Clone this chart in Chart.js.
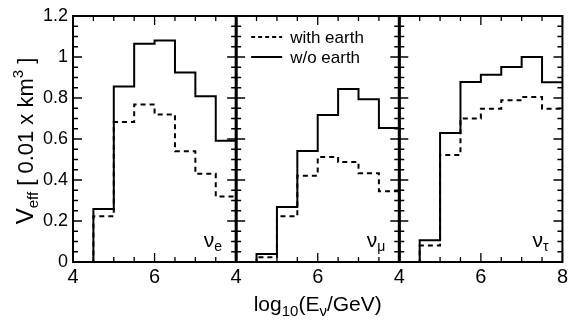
<!DOCTYPE html>
<html>
<head>
<meta charset="utf-8">
<title>Effective volume</title>
<script src="https://cdn.jsdelivr.net/npm/chart.js@4.4.0/dist/chart.umd.min.js"></script>
<style>
    html, body { margin: 0; padding: 0; background: #fff; }
    #veff { display: block; }
</style>
</head>
<body>
<canvas id="veff" width="571" height="321"></canvas>
<script>
const FONT = '"Liberation Sans", Arial, sans-serif';

// bin edges in log10(E/GeV), shared by every panel
const binEdges = [4, 4.5, 5, 5.5, 6, 6.5, 7, 7.5, 8];
const flavours = ['e', 'μ', 'τ'];

// V_eff per bin, units of 0.01 km^3
const nueNoEarth = [0, 0.258, 0.856, 1.065, 1.08, 0.925, 0.808, 0.592];
const nueEarth = [0, 0.223, 0.683, 0.768, 0.72, 0.54, 0.43, 0.319];
const numuNoEarth = [0, 0.039, 0.268, 0.541, 0.717, 0.844, 0.794, 0.654];
const numuEarth = [0, 0.023, 0.223, 0.421, 0.512, 0.488, 0.433, 0.345];
const nutauNoEarth = [0, 0.106, 0.629, 0.878, 0.914, 0.951, 1.0, 0.877];
const nutauEarth = [0, 0.08, 0.522, 0.70, 0.748, 0.789, 0.805, 0.748];

const yTicks = { min: 0, max: 1.2, step: 0.05 };
const panelAxes = ['x1', 'x2', 'x3'];

function stepPoints(values) {
    // one point per left edge, plus the closing right edge
    return binEdges.map((x, i) => ({ x, y: values[Math.min(i, values.length - 1)] }));
}

function histogram(values, axis, withEarth) {
    return {
        label: withEarth ? 'with earth' : 'w/o earth',
        data: stepPoints(values),
        xAxisID: axis,
        yAxisID: 'y',
        stepped: true,
        borderColor: '#000',
        borderWidth: 2,
        borderDash: withEarth ? [5, 4] : [],
        pointRadius: 0,
        fill: false,
    };
}

function energyAxis(isLast) {
    return {
        type: 'linear',
        position: 'bottom',
        stack: 'energy',
        stackWeight: 1,
        min: binEdges[0],
        max: binEdges[binEdges.length - 1],
        grid: { display: false, drawTicks: false },
        border: { display: false },
        ticks: {
            stepSize: 0.5,
            autoSkip: false,
            maxRotation: 0,
            padding: 3,
            color: '#000',
            font: { family: FONT, size: 20 },
            callback: (v) => (v % 2 === 0 && (isLast || v < 8) ? String(v) : ''),
        },
        afterFit: (s) => { s.height = 59; },
    };
}

const isMajorY = (v) => Math.round(v * 100) % 20 === 0;

// draws a run of text pieces (normal / sub / super) starting at x
function richText(ctx, parts, x, y, align) {
    let width = 0;
    parts.forEach((p) => {
        ctx.font = `${p.size}px ${FONT}`;
        p.w = ctx.measureText(p.t).width;
        width += p.w;
    });
    let cx = align === 'center' ? x - width / 2 : align === 'right' ? x - width : x;
    parts.forEach((p) => {
        ctx.font = `${p.size}px ${FONT}`;
        ctx.fillText(p.t, cx, y + (p.dy || 0));
        cx += p.w;
    });
}

const decorations = {
    id: 'decorations',
    afterDraw(chart) {
        const { ctx, chartArea: area, scales } = chart;
        const ys = scales.y;
        ctx.save();
        ctx.strokeStyle = '#000';
        ctx.fillStyle = '#000';
        ctx.textBaseline = 'alphabetic';
        ctx.textAlign = 'left';

        panelAxes.forEach((id, idx) => {
            const xs = scales[id];
            // inward tick marks on all four sides of the panel
            ctx.lineWidth = 1.3;
            ctx.setLineDash([]);
            ctx.beginPath();
            xs.ticks.forEach((t) => {
                const px = xs.getPixelForValue(t.value);
                const len = t.value % 2 === 0 ? 9 : 5;
                ctx.moveTo(px, area.bottom);
                ctx.lineTo(px, area.bottom - len);
                ctx.moveTo(px, area.top);
                ctx.lineTo(px, area.top + len);
            });
            ys.ticks.forEach((t) => {
                const py = ys.getPixelForValue(t.value);
                const len = isMajorY(t.value) ? 9 : 5;
                ctx.moveTo(xs.left, py);
                ctx.lineTo(xs.left + len, py);
                ctx.moveTo(xs.right, py);
                ctx.lineTo(xs.right - len, py);
            });
            ctx.stroke();

            ctx.lineWidth = 2;
            ctx.strokeRect(xs.left, area.top, xs.right - xs.left, area.bottom - area.top);

            // flavour tag, bottom right
            richText(ctx, [
                { t: 'ν', size: 21 },
                { t: flavours[idx], size: 14, dy: 4 },
            ], xs.right - 14, area.bottom - 15, 'right');
        });

        // shared panel edges are drawn a little heavier
        ctx.lineWidth = 3;
        ctx.beginPath();
        ['x2', 'x3'].forEach((id) => {
            ctx.moveTo(scales[id].left, area.top);
            ctx.lineTo(scales[id].left, area.bottom);
        });
        ctx.stroke();

        // legend inside the middle panel
        const lx = scales.x2.left;
        const legend = [
            { label: 'with earth', dash: [4, 3], y: area.top + 21 },
            { label: 'w/o earth', dash: [], y: area.top + 41 },
        ];
        legend.forEach((item) => {
            ctx.lineWidth = 2;
            ctx.setLineDash(item.dash);
            ctx.beginPath();
            ctx.moveTo(lx + 15, item.y);
            ctx.lineTo(lx + 46, item.y);
            ctx.stroke();
            ctx.setLineDash([]);
            ctx.font = `17px ${FONT}`;
            ctx.fillText(item.label, lx + 54, item.y + 6);
        });

        // axis titles
        richText(ctx, [
            { t: 'log', size: 21 },
            { t: '10', size: 15, dy: 5 },
            { t: '(E', size: 21 },
            { t: 'ν', size: 15, dy: 5 },
            { t: '/GeV)', size: 21 },
        ], (area.left + area.right) / 2, 311, 'center');

        ctx.save();
        ctx.translate(33, (area.top + area.bottom) / 2 + 2);
        ctx.rotate(-Math.PI / 2);
        richText(ctx, [
            { t: 'V', size: 24 },
            { t: 'eff', size: 15, dy: 5 },
            { t: ' [ 0.01 x km', size: 22 },
            { t: '3', size: 15, dy: -10 },
            { t: ' ]', size: 22 },
        ], 0, 0, 'center');
        ctx.restore();

        ctx.restore();
    },
};

new Chart(document.getElementById('veff'), {
    type: 'line',
    data: {
        datasets: [
            histogram(nueNoEarth, 'x1', false),
            histogram(nueEarth, 'x1', true),
            histogram(numuNoEarth, 'x2', false),
            histogram(numuEarth, 'x2', true),
            histogram(nutauNoEarth, 'x3', false),
            histogram(nutauEarth, 'x3', true),
        ],
    },
    options: {
        responsive: false,
        animation: false,
        devicePixelRatio: 1,
        layout: { padding: { left: 0, right: 6, top: 16, bottom: 0 } },
        plugins: {
            legend: { display: false },
            tooltip: { enabled: false },
        },
        scales: {
            x1: energyAxis(false),
            x2: energyAxis(false),
            x3: energyAxis(true),
            y: {
                type: 'linear',
                position: 'left',
                min: yTicks.min,
                max: yTicks.max,
                grid: { display: false, drawTicks: false },
                border: { display: false },
                ticks: {
                    stepSize: yTicks.step,
                    autoSkip: false,
                    padding: 5,
                    color: '#000',
                    font: { family: FONT, size: 18 },
                    callback: (v) => (isMajorY(v) ? String(Math.round(v * 10) / 10) : ''),
                },
                afterFit: (s) => { s.width = 73; },
            },
        },
    },
    plugins: [decorations],
});
</script>
</body>
</html>
